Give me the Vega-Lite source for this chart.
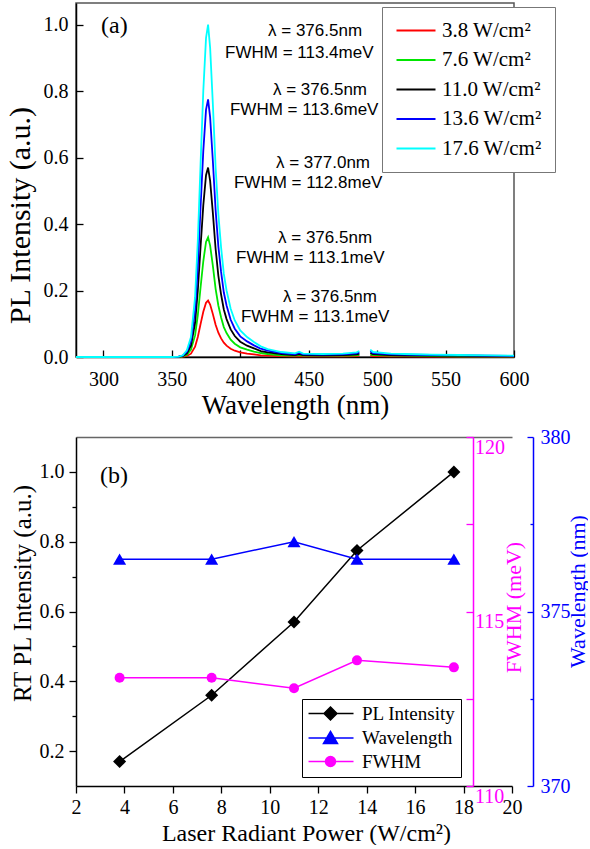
{
  "$schema": "https://vega.github.io/schema/vega-lite/v6.json",
  "padding": {"left": 4, "top": 2, "right": 0, "bottom": 0},
  "spacing": 8,
  "background": "white",
  "config": {
    "font": "Liberation Serif",
    "view": {"stroke": null},
    "axis": {"labelFont": "Liberation Serif", "titleFont": "Liberation Serif", "grid": false, "labelColor": "black", "titleColor": "black", "domainColor": "black", "tickColor": "black", "labelFlush": false, "labelOverlap": false, "labelBound": false, "domainWidth": 1.5, "tickWidth": 1.3, "titleFontWeight": "normal", "ticks": true},
    "legend": {"labelFont": "Liberation Serif", "labelColor": "black"}
  },
  "resolve": {"scale": {"color": "independent"}, "legend": {"color": "independent"}},
  "vconcat": [
    {
      "width": 438,
      "height": 354,
      "view": {"stroke": "#555", "strokeWidth": 1.5},
      "layer": [
        {
          "data": {"values": [
            {"wl": 280, "seg": 1, "s1": 0, "s2": 0, "s3": 0, "s4": 0, "s5": 0},
            {"wl": 300, "seg": 1, "s1": 0, "s2": 0, "s3": 0, "s4": 0, "s5": 0},
            {"wl": 320, "seg": 1, "s1": 0, "s2": 0, "s3": 0, "s4": 0, "s5": 0},
            {"wl": 340, "seg": 1, "s1": 0, "s2": 0, "s3": 0, "s4": 0, "s5": 0},
            {"wl": 350, "seg": 1, "s1": 0, "s2": 0, "s3": 0, "s4": 0, "s5": 0},
            {"wl": 355, "seg": 1, "s1": 0, "s2": 0, "s3": 0.001, "s4": 0.001, "s5": 0.001},
            {"wl": 358, "seg": 1, "s1": 0.001, "s2": 0.002, "s3": 0.003, "s4": 0.004, "s5": 0.005},
            {"wl": 361, "seg": 1, "s1": 0.003, "s2": 0.007, "s3": 0.011, "s4": 0.016, "s5": 0.02},
            {"wl": 364, "seg": 1, "s1": 0.010, "s2": 0.022, "s3": 0.034, "s4": 0.047, "s5": 0.06},
            {"wl": 367, "seg": 1, "s1": 0.031, "s2": 0.065, "s3": 0.103, "s4": 0.140, "s5": 0.18},
            {"wl": 369, "seg": 1, "s1": 0.060, "s2": 0.126, "s3": 0.200, "s4": 0.271, "s5": 0.35},
            {"wl": 371, "seg": 1, "s1": 0.099, "s2": 0.209, "s3": 0.331, "s4": 0.450, "s5": 0.58},
            {"wl": 373, "seg": 1, "s1": 0.136, "s2": 0.288, "s3": 0.456, "s4": 0.620, "s5": 0.80},
            {"wl": 375, "seg": 1, "s1": 0.163, "s2": 0.346, "s3": 0.547, "s4": 0.744, "s5": 0.96},
            {"wl": 376.5, "seg": 1, "s1": 0.17, "s2": 0.36, "s3": 0.57, "s4": 0.775, "s5": 1.0},
            {"wl": 378, "seg": 1, "s1": 0.158, "s2": 0.335, "s3": 0.530, "s4": 0.721, "s5": 0.93},
            {"wl": 380, "seg": 1, "s1": 0.129, "s2": 0.274, "s3": 0.433, "s4": 0.589, "s5": 0.76},
            {"wl": 382, "seg": 1, "s1": 0.097, "s2": 0.205, "s3": 0.325, "s4": 0.442, "s5": 0.57},
            {"wl": 384, "seg": 1, "s1": 0.073, "s2": 0.155, "s3": 0.245, "s4": 0.333, "s5": 0.43},
            {"wl": 386, "seg": 1, "s1": 0.056, "s2": 0.119, "s3": 0.188, "s4": 0.256, "s5": 0.33},
            {"wl": 388, "seg": 1, "s1": 0.043, "s2": 0.090, "s3": 0.143, "s4": 0.194, "s5": 0.25},
            {"wl": 390, "seg": 1, "s1": 0.034, "s2": 0.072, "s3": 0.114, "s4": 0.155, "s5": 0.20},
            {"wl": 393, "seg": 1, "s1": 0.025, "s2": 0.052, "s3": 0.083, "s4": 0.112, "s5": 0.145},
            {"wl": 396, "seg": 1, "s1": 0.019, "s2": 0.040, "s3": 0.063, "s4": 0.085, "s5": 0.11},
            {"wl": 400, "seg": 1, "s1": 0.014, "s2": 0.029, "s3": 0.046, "s4": 0.062, "s5": 0.08},
            {"wl": 405, "seg": 1, "s1": 0.010, "s2": 0.022, "s3": 0.034, "s4": 0.047, "s5": 0.06},
            {"wl": 410, "seg": 1, "s1": 0.008, "s2": 0.016, "s3": 0.026, "s4": 0.035, "s5": 0.045},
            {"wl": 415, "seg": 1, "s1": 0.005, "s2": 0.012, "s3": 0.018, "s4": 0.025, "s5": 0.032},
            {"wl": 420, "seg": 1, "s1": 0.004, "s2": 0.009, "s3": 0.014, "s4": 0.019, "s5": 0.024},
            {"wl": 430, "seg": 1, "s1": 0.003, "s2": 0.005, "s3": 0.009, "s4": 0.012, "s5": 0.015},
            {"wl": 440, "seg": 1, "s1": 0.002, "s2": 0.004, "s3": 0.006, "s4": 0.008, "s5": 0.011},
            {"wl": 443, "seg": 1, "s1": 0.003, "s2": 0.006, "s3": 0.009, "s4": 0.012, "s5": 0.016},
            {"wl": 446, "seg": 1, "s1": 0.002, "s2": 0.004, "s3": 0.006, "s4": 0.008, "s5": 0.010},
            {"wl": 460, "seg": 1, "s1": 0.002, "s2": 0.004, "s3": 0.005, "s4": 0.007, "s5": 0.009},
            {"wl": 475, "seg": 1, "s1": 0.002, "s2": 0.004, "s3": 0.006, "s4": 0.008, "s5": 0.010},
            {"wl": 485, "seg": 1, "s1": 0.003, "s2": 0.005, "s3": 0.008, "s4": 0.011, "s5": 0.014},
            {"wl": 487, "seg": 1, "s1": 0.004, "s2": 0.007, "s3": 0.010, "s4": 0.014, "s5": 0.018},
            {"wl": 495, "seg": 2, "s1": 0.004, "s2": 0.008, "s3": 0.012, "s4": 0.017, "s5": 0.022},
            {"wl": 497, "seg": 2, "s1": 0.003, "s2": 0.006, "s3": 0.009, "s4": 0.012, "s5": 0.015},
            {"wl": 510, "seg": 2, "s1": 0.002, "s2": 0.004, "s3": 0.006, "s4": 0.008, "s5": 0.010},
            {"wl": 520, "seg": 2, "s1": 0.002, "s2": 0.004, "s3": 0.005, "s4": 0.007, "s5": 0.009},
            {"wl": 540, "seg": 2, "s1": 0.001, "s2": 0.003, "s3": 0.004, "s4": 0.006, "s5": 0.007},
            {"wl": 560, "seg": 2, "s1": 0.001, "s2": 0.002, "s3": 0.004, "s4": 0.005, "s5": 0.006},
            {"wl": 580, "seg": 2, "s1": 0.001, "s2": 0.002, "s3": 0.003, "s4": 0.004, "s5": 0.005},
            {"wl": 600, "seg": 2, "s1": 0.001, "s2": 0.002, "s3": 0.003, "s4": 0.003, "s5": 0.004}
          ]},
          "transform": [{"fold": ["s1", "s2", "s3", "s4", "s5"], "as": ["series", "I"]}],
          "mark": {"type": "line", "strokeWidth": 1.8},
          "encoding": {
            "x": {"field": "wl", "type": "quantitative",
              "scale": {"domain": [280, 600], "nice": false, "zero": false},
              "axis": {"values": [300, 325, 350, 375, 400, 425, 450, 475, 500, 525, 550, 575, 600],
                "format": "d",
                "labelExpr": "datum.value % 50 === 0 ? datum.label : ''",
                "tickSize": {"condition": {"test": "datum.value % 50 === 0", "value": -7}, "value": -4},
                "labelPadding": 19, "labelFontSize": 20, "labelFont": "Liberation Serif",
                "title": "Wavelength (nm)", "titleFontSize": 27, "titleY": 56, "titleBaseline": "alphabetic"}},
            "y": {"field": "I", "type": "quantitative",
              "scale": {"domain": [0, 1.065], "nice": false, "zero": false},
              "axis": {"values": [0, 0.1, 0.2, 0.3, 0.4, 0.5, 0.6, 0.7, 0.8, 0.9, 1.0],
                "format": ".1f",
                "labelExpr": "round(datum.value * 10) % 2 === 0 ? datum.label : ''",
                "tickSize": {"condition": {"test": "round(datum.value * 10) % 2 === 0", "value": -7}, "value": -4},
                "labelPadding": 15, "labelFontSize": 20, "labelFont": "Liberation Serif",
                "title": "PL Intensity (a.u.)", "titleFontSize": 30, "titleAngle": 270, "titleAlign": "center",
                "titleX": -47, "titleY": 212, "titleBaseline": "alphabetic"}},
            "color": {"field": "series", "type": "nominal",
              "scale": {"domain": ["s1", "s2", "s3", "s4", "s5"], "range": ["#FF0000", "#00E600", "#000000", "#0000FF", "#00FFFF"]},
              "legend": {"title": null, "orient": "none", "legendX": 306, "legendY": 4,
                "labelExpr": "datum.value === 's1' ? '3.8 W/cm²' : datum.value === 's2' ? '7.6 W/cm²' : datum.value === 's3' ? '11.0 W/cm²' : datum.value === 's4' ? '13.6 W/cm²' : '17.6 W/cm²'",
                "labelFont": "Liberation Serif",
                "labelFontSize": 21, "symbolType": "M-1.5,0H5", "symbolSize": 144, "symbolStrokeWidth": 2,
                "strokeColor": "#777", "fillColor": "white", "padding": 13, "rowPadding": 7.5, "labelOffset": 26}},
            "detail": {"field": "seg", "type": "nominal"}
          }
        },
        {
          "data": {"values": [
            {"wl": 420.3, "I": 0.982, "t": "λ = 376.5nm"},
            {"wl": 388.9, "I": 0.916, "t": "FWHM = 113.4meV"},
            {"wl": 423.9, "I": 0.802, "t": "λ = 376.5nm"},
            {"wl": 392.5, "I": 0.742, "t": "FWHM = 113.6meV"},
            {"wl": 426.1, "I": 0.583, "t": "λ = 377.0nm"},
            {"wl": 395.4, "I": 0.523, "t": "FWHM = 112.8meV"},
            {"wl": 427.6, "I": 0.357, "t": "λ = 376.5nm"},
            {"wl": 396.9, "I": 0.297, "t": "FWHM = 113.1meV"},
            {"wl": 431.2, "I": 0.180, "t": "λ = 376.5nm"},
            {"wl": 400.5, "I": 0.120, "t": "FWHM = 113.1meV"}
          ]},
          "mark": {"type": "text", "align": "left", "baseline": "middle", "font": "Liberation Sans", "fontSize": 17, "color": "black"},
          "encoding": {
            "x": {"field": "wl", "type": "quantitative"},
            "y": {"field": "I", "type": "quantitative"},
            "text": {"field": "t"}
          }
        },
        {
          "data": {"values": [{"wl": 298.3, "I": 0.997, "t": "(a)"}]},
          "mark": {"type": "text", "align": "left", "baseline": "middle", "font": "Liberation Serif", "fontSize": 24, "color": "black"},
          "encoding": {
            "x": {"field": "wl", "type": "quantitative"},
            "y": {"field": "I", "type": "quantitative"},
            "text": {"field": "t"}
          }
        }
      ]
    },
    {
      "width": 436,
      "height": 349,
      "data": {"values": [
        {"p": 3.8, "pl": 0.17, "wl": 376.5, "fw": 113.1},
        {"p": 7.6, "pl": 0.36, "wl": 376.5, "fw": 113.1},
        {"p": 11.0, "pl": 0.57, "wl": 377.0, "fw": 112.8},
        {"p": 13.6, "pl": 0.775, "wl": 376.5, "fw": 113.6},
        {"p": 17.6, "pl": 1.0, "wl": 376.5, "fw": 113.4}
      ]},
      "resolve": {"scale": {"y": "independent"}, "axis": {"x": "independent", "y": "independent"}},
      "layer": [
        {
          "layer": [
            {
              "mark": {"type": "line", "strokeWidth": 1.5, "point": {"shape": "diamond", "filled": true, "size": 170}},
              "encoding": {
                "x": {"field": "p", "type": "quantitative",
                  "scale": {"domain": [2, 20], "nice": false, "zero": false},
                  "axis": {"values": [2, 3, 4, 5, 6, 7, 8, 9, 10, 11, 12, 13, 14, 15, 16, 17, 18, 19, 20],
                    "format": "d",
                    "labelExpr": "datum.value % 2 === 0 ? datum.label : ''",
                    "tickSize": {"condition": {"test": "datum.value % 2 === 0", "value": 7}, "value": 4},
                    "labelPadding": 4, "labelFontSize": 20, "labelFont": "Liberation Serif",
                    "title": "Laser Radiant Power (W/cm²)", "titleFontSize": 24, "titleX": 230, "titleY": 54, "titleBaseline": "alphabetic"}},
                "y": {"field": "pl", "type": "quantitative",
                  "scale": {"domain": [0.1, 1.1], "nice": false, "zero": false},
                  "axis": {"values": [0.2, 0.3, 0.4, 0.5, 0.6, 0.7, 0.8, 0.9, 1.0],
                    "format": ".1f",
                    "labelExpr": "round(datum.value * 10) % 2 === 0 ? datum.label : ''",
                    "tickSize": {"condition": {"test": "round(datum.value * 10) % 2 === 0", "value": 7}, "value": 4},
                    "labelPadding": 5, "labelFontSize": 20, "labelFont": "Liberation Serif",
                    "title": "RT PL Intensity (a.u.)", "titleFontSize": 25, "titleAngle": 270, "titleAlign": "center",
                    "titleX": -46, "titleY": 156, "titleBaseline": "alphabetic"}},
                "color": {"datum": "PL Intensity", "type": "nominal",
                  "scale": {"domain": ["PL Intensity", "Wavelength", "FWHM"], "range": ["#000000", "#0000FF", "#FF00FF"]},
                  "legend": {"title": null, "orient": "none", "legendX": 226, "legendY": 262,
                    "labelFont": "Liberation Serif",
                    "labelFontSize": 19, "strokeColor": "black", "fillColor": "white",
                    "padding": 5, "rowPadding": 3.5, "symbolSize": 144, "symbolStrokeWidth": 1.5, "labelOffset": 36,
                    "encode": {"symbols": {"update": {
                      "shape": {"signal": "datum.value === 'PL Intensity' ? 'M-1.33,0H6.17M2.33,-1.08L3.41,0L2.33,1.08L1.25,0Z' : datum.value === 'Wavelength' ? 'M-1.33,0H6.17M2.33,-1.1L3.5,0.9L1.16,0.9Z' : 'M-1.33,0H6.17M1.5,0A0.83,0.83,0,1,0,3.16,0A0.83,0.83,0,1,0,1.5,0Z'"},
                      "fill": {"signal": "datum.value === 'PL Intensity' ? '#000000' : datum.value === 'Wavelength' ? '#0000FF' : '#FF00FF'"},
                      "stroke": {"signal": "datum.value === 'PL Intensity' ? '#000000' : datum.value === 'Wavelength' ? '#0000FF' : '#FF00FF'"}
                    }}}}}
              }
            },
            {
              "data": {"values": [{"p": 2.99, "pl": 0.988, "t": "(b)"}]},
              "mark": {"type": "text", "align": "left", "baseline": "middle", "font": "Liberation Serif", "fontSize": 24, "color": "black"},
              "encoding": {
                "x": {"field": "p", "type": "quantitative"},
                "y": {"field": "pl", "type": "quantitative"},
                "text": {"field": "t"}
              }
            }
          ]
        },
        {
          "mark": {"type": "line", "strokeWidth": 1.5, "point": {"shape": "triangle-up", "filled": true, "size": 170}},
          "encoding": {
            "x": {"field": "p", "type": "quantitative",
              "axis": {"orient": "top", "labels": false, "ticks": false, "title": null, "domainColor": "#666", "domainWidth": 1.5}},
            "y": {"field": "wl", "type": "quantitative",
              "scale": {"domain": [370, 380], "nice": false, "zero": false},
              "axis": {"orient": "right", "offset": 21,
                "values": [370, 372.5, 375, 377.5, 380],
                "format": "d",
                "labelExpr": "datum.value % 5 === 0 ? datum.label : ''",
                "tickSize": {"condition": {"test": "datum.value % 5 === 0", "value": -6}, "value": -3},
                "labelPadding": 13, "labelFontSize": 20, "labelFont": "Liberation Serif",
                "domainColor": "#0000FF", "tickColor": "#0000FF", "labelColor": "#0000FF",
                "title": "Wavelength (nm)", "titleColor": "#0000FF", "titleFontSize": 22, "titleAngle": 270, "titleAlign": "center",
                "titleX": 51, "titleY": 154, "titleBaseline": "alphabetic"}},
            "color": {"datum": "Wavelength", "type": "nominal"}
          }
        },
        {
          "mark": {"type": "line", "strokeWidth": 1.5, "point": {"shape": "circle", "filled": true, "size": 100}},
          "encoding": {
            "x": {"field": "p", "type": "quantitative", "axis": null},
            "y": {"field": "fw", "type": "quantitative",
              "scale": {"domain": [110, 120], "nice": false, "zero": false},
              "axis": {"orient": "right", "offset": -39,
                "values": [110, 112.5, 115, 117.5, 120],
                "format": "d",
                "labelExpr": "datum.value % 5 === 0 ? datum.label : ''",
                "tickSize": -7,
                "labelPadding": 8.5, "labelFontSize": 20, "labelFont": "Liberation Serif", "labelBaseline": "top",
                "domainColor": "#FF00FF", "tickColor": "#FF00FF", "labelColor": "#FF00FF",
                "title": "FWHM (meV)", "titleColor": "#FF00FF", "titleFontSize": 22, "titleAngle": 270, "titleAlign": "center",
                "titleX": 47, "titleY": 170, "titleBaseline": "alphabetic"}},
            "color": {"datum": "FWHM", "type": "nominal"}
          }
        }
      ]
    }
  ]
}
